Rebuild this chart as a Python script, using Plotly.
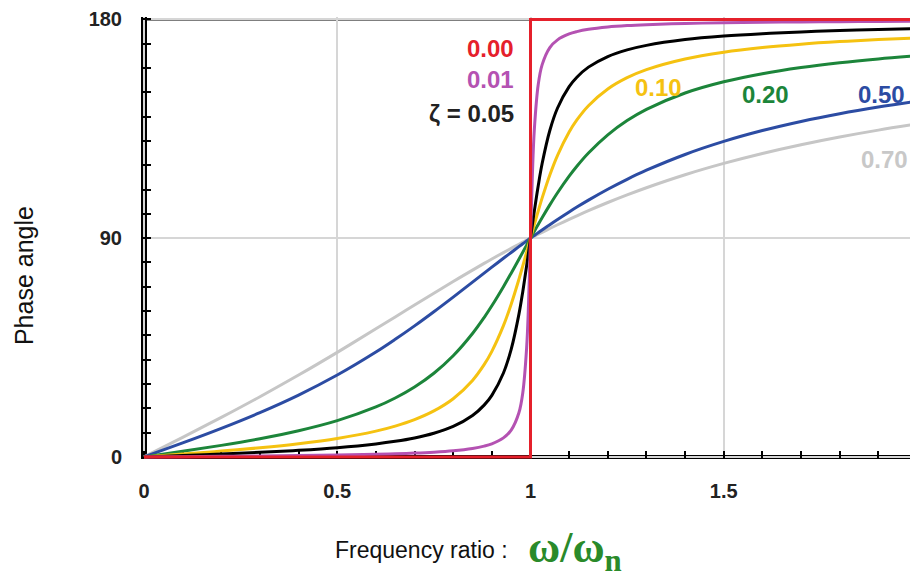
import plotly.graph_objects as go

# ---- data ----
ratio = [0, 0.1, 0.2, 0.3, 0.4, 0.5, 0.6, 0.65, 0.7, 0.75, 0.8, 0.85, 0.88, 0.9, 0.93, 0.95,
         0.97, 0.98, 0.99, 0.995, 1.0, 1.005, 1.01, 1.02, 1.03, 1.05, 1.07, 1.1, 1.12, 1.15,
         1.2, 1.25, 1.3, 1.4, 1.5, 1.6, 1.7, 1.8, 1.9, 2.0]

phase_001 = [0, 0.12, 0.24, 0.38, 0.55, 0.76, 1.07, 1.29, 1.57, 1.96, 2.54, 3.51, 4.46, 5.41,
             7.84, 11.03, 18.17, 26.33, 44.86, 63.4, 90, 116.5, 134.86, 153.20, 161.31, 168.42,
             171.60, 174.02, 174.97, 175.92, 176.88, 177.46, 177.84, 178.33, 178.63, 178.82,
             178.97, 179.08, 179.17, 179.24]
phase_005 = [0, 0.58, 1.19, 1.89, 2.73, 3.81, 5.36, 6.42, 7.81, 9.73, 12.53, 17.03, 21.31, 25.35,
             34.55, 44.26, 58.66, 68.0, 78.64, 84.28, 90, 95.70, 101.25, 111.6, 120.6, 134.31,
             143.56, 152.35, 156.24, 160.37, 164.74, 167.47, 169.33, 171.70, 173.16, 174.14,
             174.86, 175.41, 175.84, 176.19]
phase_010 = [0, 1.16, 2.39, 3.77, 5.44, 7.59, 10.62, 12.69, 15.35, 18.93, 23.96, 31.49, 37.96,
             43.45, 54.01, 62.84, 73.06, 78.58, 84.26, 87.13, 90, 92.86, 95.68, 101.20, 106.47,
             116.01, 124.10, 133.67, 138.64, 144.50, 151.39, 156.04, 159.36, 163.74, 166.50,
             168.41, 169.80, 170.87, 171.72, 172.41]
phase_020 = [0, 2.31, 4.76, 7.51, 10.78, 14.93, 20.56, 24.24, 28.77, 34.44, 41.63, 50.78, 57.34,
             62.18, 70.04, 75.61, 81.34, 84.23, 87.12, 88.56, 90, 91.43, 92.85, 95.65, 98.41,
             103.71, 108.70, 115.51, 119.59, 125.03, 132.51, 138.37, 143.00, 149.74, 154.36,
             157.69, 160.21, 162.18, 163.76, 165.07]
phase_050 = [0, 5.77, 11.77, 18.25, 25.46, 33.69, 43.15, 48.38, 53.92, 59.74, 65.77, 71.92, 75.62,
             78.08, 81.74, 84.14, 86.51, 87.69, 88.85, 89.43, 90, 90.57, 91.14, 92.27, 93.38,
             95.57, 97.71, 100.81, 102.80, 105.66, 110.14, 114.23, 117.96, 124.44, 129.81,
             134.28, 138.03, 141.22, 143.94, 146.31]
phase_070 = [0, 8.05, 16.26, 24.78, 33.69, 43.03, 52.70, 57.60, 62.51, 67.38, 72.18, 76.87, 79.62,
             81.43, 84.08, 85.81, 87.51, 88.35, 89.18, 89.59, 90, 90.41, 90.81, 91.62, 92.42,
             93.99, 95.52, 97.77, 99.22, 101.33, 104.68, 107.82, 110.76, 116.10, 120.76,
             124.85, 128.45, 131.63, 134.46, 136.97]

zero_ratio = [0, 1, 1, 2]
zero_phase = [0, 0, 180, 180]

x_ticks = [0, 0.5, 1, 1.5, 2]
x_tick_labels = ["0", "0.5", "1", "1.5", "2"]
y_ticks = [0, 90, 180]
y_tick_labels = ["0", "90", "180"]

series = [
    ("0.70", phase_070, "#c6c6c6"),
    ("0.50", phase_050, "#2c4ca3"),
    ("0.20", phase_020, "#1c853a"),
    ("0.10", phase_010, "#f5c211"),
    ("0.05", phase_005, "#000000"),
    ("0.01", phase_001, "#b452b2"),
]

fig = go.Figure()
for name, ys, col in series:
    fig.add_trace(go.Scatter(x=ratio, y=ys, mode="lines", name=name,
                             line=dict(color=col, width=3, shape="spline", smoothing=1.0)))
fig.add_trace(go.Scatter(x=zero_ratio, y=zero_phase, mode="lines", name="0.00",
                         line=dict(color="#e5202b", width=3)))

# curve labels
lab_font = dict(family="Liberation Sans, Arial, sans-serif", size=24, weight="bold")
labels = [
    ("0.00", 0.962, 168.2, "right", "#e5202b"),
    ("0.01", 0.962, 155.1, "right", "#b452b2"),
    ("ζ = 0.05", 0.962, 141.5, "right", "#222222"),
    ("0.10", 1.330, 151.8, "center", "#f5c211"),
    ("0.20", 1.609, 149.3, "center", "#1c853a"),
    ("0.50", 1.909, 149.3, "center", "#2c4ca3"),
    ("0.70", 1.915, 122.2, "center", "#c8c8c8"),
]
for txt, x, y, xa, col in labels:
    fig.add_annotation(x=x, y=y, text=txt, showarrow=False, xanchor=xa, yanchor="middle",
                       font=dict(lab_font, color=col))

# frame: thick left and bottom axis bars, thin top border
fig.add_shape(type="line", xref="x", x0=x_ticks[0], x1=x_ticks[0], yref="paper", y0=0, y1=1,
              line=dict(color="black", width=6), layer="below")
fig.add_shape(type="line", xref="paper", x0=0, x1=1, yref="y", y0=y_ticks[0], y1=y_ticks[0],
              line=dict(color="black", width=4), layer="below")
fig.add_shape(type="line", xref="paper", x0=0, x1=1, yref="y", y0=y_ticks[-1], y1=y_ticks[-1],
              line=dict(color="black", width=2), layer="below")

# axis titles
fig.add_annotation(xref="paper", yref="paper", x=-0.1508, y=0.416, text="Phase angle",
                   textangle=-90, showarrow=False, xanchor="center", yanchor="middle",
                   font=dict(family="Liberation Sans, Arial, sans-serif", size=25, color="#111111"))
fig.add_annotation(xref="paper", yref="paper", x=0.2474, y=-0.2059, text="Frequency ratio :",
                   showarrow=False, xanchor="left", yanchor="middle",
                   font=dict(family="Liberation Sans, Arial, sans-serif",
                             size=23, color="#111111"))
fig.add_annotation(xref="paper", yref="paper", x=0.4955, y=-0.2059, text="ω/ω<sub>n</sub>",
                   showarrow=False, xanchor="left", yanchor="middle",
                   font=dict(family="Liberation Serif, DejaVu Serif, serif", size=44,
                             color="#2a8a2a", weight="bold"))

tick_font = dict(family="Liberation Sans, Arial, sans-serif", size=20, color="#222222", weight="bold")
fig.update_xaxes(range=[-0.00776, 2], tickvals=x_ticks, ticktext=x_tick_labels,
                 showline=False, zeroline=False, automargin=False, ticklabeloverflow="allow",
                 showgrid=True, gridcolor="#d6d6d6", gridwidth=1.5,
                 ticks="inside", ticklen=8, tickwidth=2, tickcolor="black",
                 minor=dict(dtick=0.1, tick0=0, ticks="inside", ticklen=8, tickwidth=2,
                            tickcolor="black", showgrid=False),
                 tickfont=tick_font, ticklabelstandoff=18, layer="below traces", fixedrange=True)
fig.update_yaxes(range=[-0.85, 181], tickvals=y_ticks, ticktext=y_tick_labels,
                 showline=False, zeroline=False, automargin=False,
                 showgrid=True, gridcolor="#d6d6d6", gridwidth=1.5,
                 ticks="inside", ticklen=10, tickwidth=2, tickcolor="black",
                 minor=dict(dtick=10, tick0=0, ticks="inside", ticklen=10, tickwidth=2,
                            tickcolor="black", showgrid=False),
                 tickfont=tick_font, ticklabelstandoff=18, layer="below traces", fixedrange=True)

# the page body adds an 8px margin, so the figure is sized 910x565 to fill the 918x573 window
fig.update_layout(width=910, height=565, showlegend=False,
                  margin=dict(l=133, r=1, t=9, b=114),
                  paper_bgcolor="white", plot_bgcolor="white")

fig.write_html("out.html")
